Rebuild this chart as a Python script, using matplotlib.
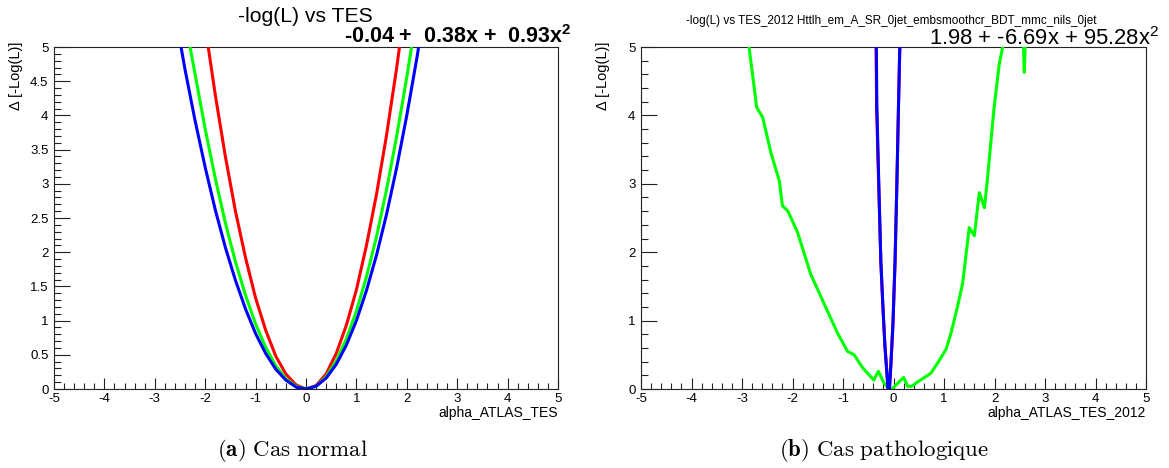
import numpy as np
import matplotlib
matplotlib.use("Agg")
import matplotlib.pyplot as plt
from matplotlib.ticker import MultipleLocator

plt.rcParams['font.family'] = ['Liberation Sans', 'DejaVu Sans']
plt.rcParams['axes.unicode_minus'] = False
plt.rcParams['mathtext.fontset'] = 'custom'
plt.rcParams['mathtext.rm'] = 'Liberation Sans'
plt.rcParams['mathtext.bf'] = 'Liberation Sans:bold'

# ---------------- data: panel (a) normal case ----------------
a_red_x = [-2.0, -1.8, -1.6, -1.4, -1.2, -1.0, -0.8, -0.6, -0.4, -0.2, 0.0, 0.2, 0.4, 0.6, 0.8, 1.0, 1.2, 1.4, 1.6, 1.8, 2.0]
a_red_y = [5.3, 4.3, 3.4, 2.6, 1.92, 1.33, 0.86, 0.48, 0.22, 0.06, 0.0, 0.05, 0.22, 0.52, 0.93, 1.45, 2.1, 2.85, 3.72, 4.7, 5.8]

a_green_x = [-2.4, -2.2, -2.0, -1.8, -1.6, -1.4, -1.2, -1.0, -0.8, -0.6, -0.4, -0.2, 0.0, 0.2, 0.4, 0.6, 0.8, 1.0, 1.2, 1.4, 1.6, 1.8, 2.0, 2.2]
a_green_y = [5.4, 4.6, 3.8, 3.08, 2.43, 1.86, 1.37, 0.95, 0.61, 0.34, 0.15, 0.04, 0.0, 0.04, 0.18, 0.41, 0.73, 1.14, 1.64, 2.23, 2.92, 3.7, 4.56, 5.5]

a_blue_x = [-2.6, -2.4, -2.2, -2.0, -1.8, -1.6, -1.4, -1.2, -1.0, -0.8, -0.6, -0.4, -0.2, 0.0, 0.2, 0.4, 0.6, 0.8, 1.0, 1.2, 1.4, 1.6, 1.8, 2.0, 2.2, 2.4]
a_blue_y = [5.5, 4.67, 3.92, 3.24, 2.62, 2.07, 1.59, 1.17, 0.81, 0.52, 0.29, 0.13, 0.03, 0.0, 0.04, 0.16, 0.36, 0.64, 1.0, 1.44, 1.96, 2.56, 3.24, 4.0, 4.84, 5.76]

# ---------------- data: panel (b) pathological case ----------------
b_green_x = [-3.0, -2.86, -2.71, -2.59, -2.43, -2.26, -2.2, -2.09, -1.9, -1.64, -1.37, -1.11, -0.91, -0.78, -0.61, -0.39, -0.30, -0.19, -0.1, -0.03,
             0.2, 0.28, 0.36, 0.47, 0.74, 0.9, 1.04, 1.14, 1.27, 1.37, 1.5, 1.6, 1.7, 1.8, 1.86, 1.99, 2.09, 2.16, 2.35, 2.56, 2.59, 2.62, 2.8]
b_green_y = [5.8, 5.0, 4.12, 3.97, 3.46, 3.04, 2.68, 2.6, 2.29, 1.68, 1.24, 0.82, 0.55, 0.5, 0.31, 0.13, 0.26, 0.09, 0.01, 0.0,
             0.17, 0.04, 0.04, 0.1, 0.23, 0.41, 0.58, 0.82, 1.21, 1.55, 2.36, 2.24, 2.87, 2.65, 3.07, 4.1, 4.73, 5.0, 6.2, 5.3, 4.63, 5.3, 6.5]

b_blue_x = [-0.34, -0.33, -0.29, -0.25, -0.21, -0.17, -0.13, -0.11, -0.08, -0.05, -0.01, 0.03, 0.066, 0.099, 0.125]
b_blue_y = [5.0, 4.14, 2.97, 1.85, 1.21, 0.63, 0.23, 0.0, 0.0, 0.38, 0.97, 1.85, 2.97, 4.14, 5.0]

b_red_x = [-0.345, -0.335, -0.293, -0.25, -0.21, -0.17, -0.13, -0.11, -0.08, -0.05, -0.01, 0.03, 0.066, 0.099, 0.125]
b_red_y = b_blue_y

# text
titles = ["-log(L) vs TES", "-log(L) vs TES_2012 Httlh_em_A_SR_0jet_embsmoothcr_BDT_mmc_nils_0jet"]
fits = [r"-0.04 +  0.38x +  0.93x$^{\mathbf{2}}$", r"1.98 + -6.69x + 95.28x$^{2}$"]
xlabels = ["alpha_ATLAS_TES", "alpha_ATLAS_TES_2012"]
ylabel = "Δ [-Log(L)]"
captions = [r"$\mathbf{(a)}\ \mathrm{Cas\ normal}$", r"$\mathbf{(b)}\ \mathrm{Cas\ pathologique}$"]

W, H = 1169, 468
fig = plt.figure(figsize=(W / 100, H / 100), dpi=100)

def px(x0, y0, x1, y1):
    return [x0 / W, 1 - y1 / H, (x1 - x0) / W, (y1 - y0) / H]

axA = fig.add_axes(px(54, 47, 558, 389))
axB = fig.add_axes(px(641, 47, 1146, 389))

lw = 2.2
axA.plot(a_red_x, a_red_y, color='#ff0000', lw=lw, zorder=3)
axA.plot(a_green_x, a_green_y, color='#00ff00', lw=lw, zorder=4)
axA.plot(a_blue_x, a_blue_y, color='#0000ff', lw=lw, zorder=5)

axB.plot(b_green_x, b_green_y, color='#00ff00', lw=lw, zorder=3)
axB.plot(b_red_x, b_red_y, color='#ff0000', lw=lw, zorder=4)
axB.plot(b_blue_x, b_blue_y, color='#0000ff', lw=lw, zorder=5)

for i, ax in enumerate([axA, axB]):
    ax.set_xlim(-5, 5)
    ax.set_ylim(0, 5)
    for s in ax.spines.values():
        s.set_linewidth(0.8)
        s.set_color('#222222')
    ax.xaxis.set_major_locator(MultipleLocator(1))
    ax.xaxis.set_minor_locator(MultipleLocator(0.2))
    if i == 0:
        ax.yaxis.set_major_locator(MultipleLocator(0.5))
        ax.yaxis.set_minor_locator(MultipleLocator(0.1))
        ax.yaxis.set_major_formatter(matplotlib.ticker.FuncFormatter(lambda v, p: ('%g' % v)))
    else:
        ax.yaxis.set_major_locator(MultipleLocator(1))
        ax.yaxis.set_minor_locator(MultipleLocator(0.2))
    ax.tick_params(axis='both', which='both', direction='in', top=False, right=False,
                   width=0.8, color='#222222', labelsize=9.5)
    ax.tick_params(axis='x', which='major', length=8, pad=3)
    ax.tick_params(axis='x', which='minor', length=4.3)
    ax.tick_params(axis='y', which='major', length=11.3, pad=4)
    ax.tick_params(axis='y', which='minor', length=5.2)
    # ROOT-like: the "0" y label sits slightly above the x-axis labels
    for lab in ax.get_yticklabels():
        pass

# titles / fit texts
fig.text(305 / W, 1 - 16 / H, titles[0], ha='center', va='center', fontsize=15.2)
fig.text(572 / W, 1 - 37 / H, fits[0], ha='right', va='center', fontsize=15.5, fontweight='bold')
fig.text(891 / W, 1 - 21 / H, titles[1], ha='center', va='center', fontsize=8.5)
fig.text(1159 / W, 1 - 39 / H, fits[1], ha='right', va='center', fontsize=15.8)

# axis labels
fig.text(16 / W, 1 - 42 / H, ylabel, rotation=90, ha='center', va='top', fontsize=10.5)
fig.text(603 / W, 1 - 42 / H, ylabel, rotation=90, ha='center', va='top', fontsize=10.5)
fig.text(558 / W, 1 - 413 / H, xlabels[0], ha='right', va='center', fontsize=10)
fig.text(1146 / W, 1 - 413 / H, xlabels[1], ha='right', va='center', fontsize=10)

# captions (Computer Modern)
plt.rcParams['mathtext.fontset'] = 'cm'
fig.text(292 / W, 1 - 450 / H, captions[0], ha='center', va='center', fontsize=16.5)
fig.text(884 / W, 1 - 450 / H, captions[1], ha='center', va='center', fontsize=16.5)

fig.savefig("out.png", dpi=100)
